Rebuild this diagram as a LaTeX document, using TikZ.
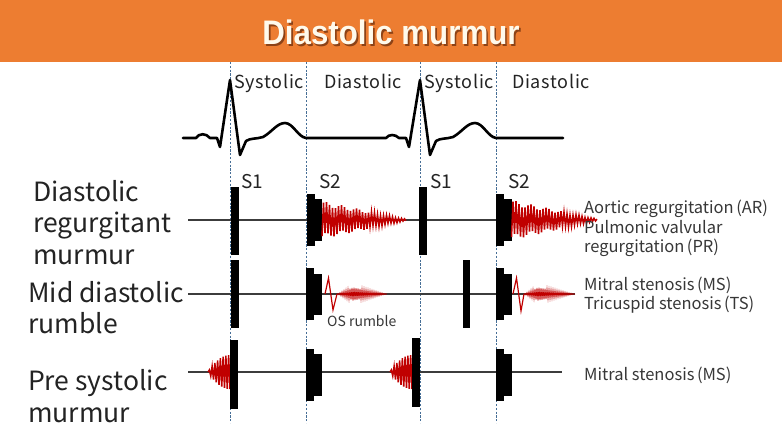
\documentclass[tikz,border=0pt]{standalone}
\usepackage{fontspec}
\setmainfont{Noto Sans CJK JP}
\newfontfamily\labfont{Noto Sans CJK JP}
\newfontfamily\topfont{Noto Sans CJK JP}[LetterSpace=4]
\newfontfamily\ttlfont{Liberation Sans}
\definecolor{hdr}{RGB}{237,125,49}
\definecolor{ttlw}{RGB}{255,250,236}
\definecolor{ttlsh}{RGB}{140,66,22}
\definecolor{mred}{RGB}{192,0,0}
\definecolor{dash}{RGB}{70,110,150}
\definecolor{rowline}{RGB}{60,60,60}
\definecolor{txt}{RGB}{35,35,35}
\definecolor{sidetxt}{RGB}{55,55,55}
\newcommand{\pk}{\kern2.5pt}
\tikzset{
  bar/.style={fill=black},
  murmur/.style={draw=mred, line width=1.5pt, line join=miter},
  rumble/.style={draw=mred, line width=0.8pt},
  osline/.style={draw=mred, line width=1.2pt, line join=miter},
  vguide/.style={draw=dash, line width=0.6pt, dash pattern=on 2.2pt off 1.6pt},
  rowaxis/.style={draw=rowline, line width=1.3pt},
  ecg/.style={draw=black, line width=2.6pt, line join=round, line cap=round},
  leftlab/.style={anchor=west, align=left, inner sep=0pt, text=txt, font=\labfont\fontsize{26.5}{31.5}\selectfont},
  sidelab/.style={anchor=west, align=left, inner sep=0pt, text=sidetxt, font=\labfont\fontsize{16.5}{19.5}\selectfont},
  toplab/.style={anchor=base west, inner sep=0pt, text=txt, font=\topfont\fontsize{18}{20}\selectfont},
  slab/.style={anchor=base west, inner sep=0pt, text=txt, font=\labfont\fontsize{19}{20}\selectfont},
}
\begin{document}
\begin{tikzpicture}[x=1pt,y=-1pt]
\useasboundingbox (0,0) rectangle (782,440);
\fill[white] (0,0) rectangle (782,440);
% header
\fill[hdr] (0,0) rectangle (782,62);
\node[text=ttlw, font=\ttlfont\bfseries\fontsize{34}{36}\selectfont] (title) at (391,33) {\scalebox{0.92}[1]{\rlap{\kern1.8pt\raisebox{-1.8pt}{\color{ttlsh}Diastolic murmur}}Diastolic murmur}};
% guides
\foreach \gx in {230,306,420,496} \draw[vguide] (\gx,62) -- (\gx,423);
% top labels
\node[toplab] (sys1) at (234,88.3) {Systolic};
\node[toplab] (dia1) at (324,88.3) {Diastolic};
\node[toplab] (sys2) at (424,88.3) {Systolic};
\node[toplab] (dia2) at (512,88.3) {Diastolic};
% ECG
\draw[ecg] (183,138) -- (196,138) .. controls (199,133) and (206,133) .. (210,138) -- (217,138)
  -- (220,147) -- (230,80) -- (240,155) -- (246,141) .. controls (250,138) and (257,139) .. (263,137)
  .. controls (272,132) and (277,123) .. (285,123) .. controls (293,123) and (298,137) .. (306,138)
  -- (386,138) .. controls (389,134) and (395,134) .. (399,138) -- (406,138)
  -- (409,147) -- (420,80) -- (430,155) -- (436,141) .. controls (440,138) and (447,139) .. (453,137)
  .. controls (462,132) and (467,123) .. (475,123) .. controls (483,123) and (488,137) .. (496,138)
  -- (563,138);
% row axes
\draw[rowaxis] (188,220) -- (590,220);
\draw[rowaxis] (188,294) -- (575,294);
\draw[rowaxis] (188,372) -- (562,372);
% S labels
\node[slab] (s1a) at (241,188.3) {S1};
\node[slab] (s2a) at (319,188.3) {S2};
\node[slab] (s1b) at (430,188.3) {S1};
\node[slab] (s2b) at (508,188.3) {S2};
% row 1: diastolic regurgitant murmur
\fill[bar] (231,187) rectangle (239,255);
\fill[bar] (306.5,194) rectangle (315,246);
\fill[bar] (315,199) rectangle (322,241);
\draw[murmur] plot[domain=322:406, samples=57] (\x, {220 + 19*(1-(\x-322)/88)*(0.85+0.15*sin((\x-322)*97))*cos(120*(\x-322))});
\fill[bar] (419,187) rectangle (427,255);
\fill[bar] (496,194) rectangle (504,246);
\fill[bar] (504,199) rectangle (511.5,241);
\draw[murmur] plot[domain=511.5:597, samples=58] (\x, {220 + 20*(1-(\x-511.5)/90)*(0.85+0.15*sin((\x-511.5)*97))*cos(120*(\x-511.5))});
% row 2: mid diastolic rumble
\fill[bar] (231,260) rectangle (239,328);
\fill[bar] (306,268) rectangle (314,320);
\fill[bar] (314,274) rectangle (322,315);
\draw[osline] (325,294) -- (328.5,278) -- (333,310) -- (337,294);
\draw[rumble] plot[domain=337:387, samples=51] (\x, {294 + 6.5*min((\x-337)/16,(387-\x)/34)*cos(180*(\x-337))});
\fill[bar] (463,260) rectangle (470,328);
\fill[bar] (496,268) rectangle (504,320);
\fill[bar] (504,274) rectangle (512,315);
\draw[osline] (513,294) -- (516.5,278) -- (521,311) -- (524,294);
\draw[rumble] plot[domain=524:575, samples=52] (\x, {294 + 6.5*min((\x-524)/14,(575-\x)/37)*cos(180*(\x-524))});
% row 3: presystolic murmur
\draw[murmur] plot[domain=208:230, samples=17] (\x, {372 + 17*(1-(1-(\x-208)/22)*(1-(\x-208)/22))*cos(130.909*(\x-208))});
\fill[bar] (230,340) rectangle (238,409);
\fill[bar] (306,349) rectangle (314,401);
\fill[bar] (314,354) rectangle (322,396);
\draw[murmur] plot[domain=390:412, samples=17] (\x, {372 + 17*(1-(1-(\x-390)/22)*(1-(\x-390)/22))*cos(130.909*(\x-390))});
\fill[bar] (412,338) rectangle (420,407);
\fill[bar] (496,349) rectangle (504,401);
\fill[bar] (504,354) rectangle (512,396);
% OS label
\node[anchor=base west, inner sep=0pt, text=sidetxt, font=\labfont\fontsize{14}{16}\selectfont] (os) at (327,326.5) {OS rumble};
% left labels
\node[leftlab] (lab1) at (33,222.5) {Diastolic\\regurgitant\\murmur};
\node[leftlab] (lab2) at (28,307.5) {Mid diastolic\\rumble};
\node[leftlab] (lab3) at (28,396) {Pre systolic\\murmur};
% right labels
\node[sidelab] (r1) at (584,228.7) {Aortic regurgitation\pk(AR)\\Pulmonic valvular\\regurgitation\pk(PR)};
\node[sidelab] (r2) at (584,295) {Mitral stenosis\pk(MS)\\Tricuspid stenosis\pk(TS)};
\node[sidelab] (r3) at (584,375) {Mitral stenosis\pk(MS)};
\end{tikzpicture}
\end{document}
